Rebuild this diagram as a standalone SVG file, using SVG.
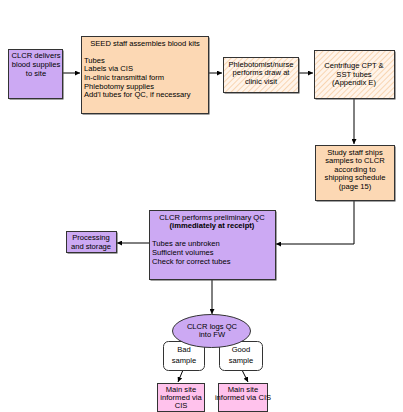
<svg xmlns="http://www.w3.org/2000/svg" width="403" height="412" viewBox="0 0 403 412">
<style>
text{font-family:"Liberation Sans",Arial,sans-serif;font-size:7.6px;fill:#000}
.c{text-anchor:middle}
.b{font-weight:bold}
.box{stroke:#333;stroke-width:1}
.sh{fill:#444}
.pur{fill:#CCA9F3}
.pch{fill:#FCD8B4}
.hat{fill:url(#hatch)}
.pnk{fill:#FFC2EC}
.wht{fill:#fff}
.ln{fill:none;stroke:#000;stroke-width:1}
</style>
<defs>
<pattern id="hatch" width="4" height="4" patternUnits="userSpaceOnUse" patternTransform="rotate(45)">
<rect width="4" height="4" fill="#FFF4EA"/>
<line x1="0" y1="0" x2="0" y2="4" stroke="#F6CBA0" stroke-width="1.5"/>
</pattern>
<marker id="ah" viewBox="0 0 6 6" refX="6" refY="3" markerWidth="5" markerHeight="5" orient="auto">
<path d="M0,0 L6,3 L0,6 z" fill="#000"/>
</marker>
</defs>
<rect width="403" height="412" fill="#fff"/>
<g id="connectors">
<line class="ln" x1="63" y1="73" x2="80" y2="73" marker-end="url(#ah)"/>
<line class="ln" x1="209" y1="73" x2="222" y2="73" marker-end="url(#ah)"/>
<line class="ln" x1="298" y1="73" x2="313" y2="73" marker-end="url(#ah)"/>
<line class="ln" x1="354" y1="98" x2="354" y2="144" marker-end="url(#ah)"/>
<polyline class="ln" points="354,200 354,244 276,244" marker-end="url(#ah)"/>
<line class="ln" x1="149" y1="243" x2="117" y2="243" marker-end="url(#ah)"/>
<line class="ln" x1="212" y1="279" x2="212" y2="314" marker-end="url(#ah)"/>
<line class="ln" x1="183" y1="370" x2="178" y2="382" marker-end="url(#ah)"/>
<line class="ln" x1="242" y1="370" x2="248" y2="382" marker-end="url(#ah)"/>
</g>
<g id="clcr-delivers">
<rect class="sh" x="9.5" y="50.5" width="54" height="49"/>
<rect class="box pur" x="8.5" y="49.5" width="54" height="49"/>
<text class="c" x="36" y="58">CLCR delivers</text>
<text class="c" x="36" y="67">blood supplies</text>
<text class="c" x="36" y="76">to site</text>
</g>
<g id="seed-staff">
<rect class="sh" x="82.5" y="37.5" width="127" height="77"/>
<rect class="box pch" x="81.5" y="36.5" width="127" height="77"/>
<text class="c" x="145" y="46">SEED staff assembles blood kits</text>
<text x="84" y="63">Tubes</text>
<text x="84" y="71">Labels via CIS</text>
<text x="84" y="80">In-clinic transmittal form</text>
<text x="84" y="89">Phlebotomy supplies</text>
<text x="84" y="97">Add'l tubes for QC, if necessary</text>
</g>
<g id="phlebotomist">
<rect class="sh" x="224.5" y="58.5" width="75" height="35"/>
<rect class="box hat" x="223.5" y="57.5" width="75" height="35"/>
<text class="c" x="261" y="67">Phlebotomist/nurse</text>
<text class="c" x="261" y="75">performs draw at</text>
<text class="c" x="261" y="84">clinic visit</text>
</g>
<g id="centrifuge">
<rect class="sh" x="315.5" y="51.5" width="80" height="48"/>
<rect class="box hat" x="314.5" y="50.5" width="80" height="48"/>
<text class="c" x="354" y="68">Centrifuge CPT &amp;</text>
<text class="c" x="354" y="77">SST tubes</text>
<text class="c" x="354" y="85">(Appendix E)</text>
</g>
<g id="study-staff">
<rect class="sh" x="316.5" y="146.5" width="79" height="55"/>
<rect class="box pch" x="315.5" y="145.5" width="79" height="55"/>
<text class="c" x="355" y="155">Study staff ships</text>
<text class="c" x="355" y="163">samples to CLCR</text>
<text class="c" x="355" y="172">according to</text>
<text class="c" x="355" y="180">shipping schedule</text>
<text class="c" x="355" y="189">(page 15)</text>
</g>
<g id="clcr-qc">
<rect class="sh" x="150.5" y="211.5" width="126" height="69"/>
<rect class="box pur" x="149.5" y="210.5" width="126" height="69"/>
<text class="c" x="212" y="220">CLCR performs preliminary QC</text>
<text class="c b" x="212" y="228">(immediately at receipt)</text>
<text x="152" y="246">Tubes are unbroken</text>
<text x="152" y="255">Sufficient volumes</text>
<text x="152" y="264">Check for correct tubes</text>
</g>
<g id="processing">
<rect class="sh" x="67.5" y="232.5" width="50" height="21"/>
<rect class="box pur" x="66.5" y="231.5" width="50" height="21"/>
<text class="c" x="91" y="240">Processing</text>
<text class="c" x="91" y="249">and storage</text>
</g>
<g id="bad-sample">
<rect class="box wht" x="163.5" y="341.5" width="41" height="29" rx="5"/>
<text class="c" x="184" y="352">Bad</text>
<text class="c" x="184" y="363">sample</text>
</g>
<g id="good-sample">
<rect class="box wht" x="219.5" y="341.5" width="43" height="29" rx="5"/>
<text class="c" x="241" y="352">Good</text>
<text class="c" x="241" y="363">sample</text>
</g>
<g id="clcr-logs">
<ellipse class="box pur" cx="211.5" cy="331" rx="39" ry="16.5"/>
<text class="c" x="212" y="329">CLCR logs QC</text>
<text class="c" x="212" y="337">into FW</text>
</g>
<g id="main-site-bad">
<rect class="box pnk" x="157.5" y="383.5" width="47" height="28"/>
<text class="c" x="181" y="392">Main site</text>
<text class="c" x="181" y="400">informed via</text>
<text class="c" x="181" y="408">CIS</text>
</g>
<g id="main-site-good">
<rect class="box pnk" x="218.5" y="383.5" width="49" height="28"/>
<text class="c" x="243" y="392">Main site</text>
<text class="c" x="243" y="400">informed via CIS</text>
</g>
</svg>
